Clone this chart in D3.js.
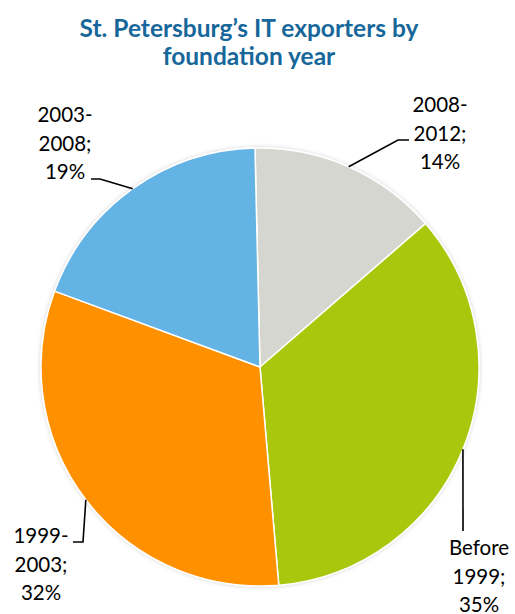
<!DOCTYPE html>
<html>
<head>
<meta charset="utf-8">
<script src="https://cdn.jsdelivr.net/npm/d3@7"></script>
<style>
  html, body { margin: 0; padding: 0; background: #fff; }
  svg { display: block; }
</style>
</head>
<body>
<svg id="chart" width="515" height="614"></svg>
<script>
// Share of St. Petersburg IT exporters by year of foundation (clockwise from top)
const categories = ["2008-2012", "Before 1999", "1999-2003", "2003-2008"];
const shares = [14, 35, 32, 19];
const labelLines = [
  ["2008-", "2012;", "14%"],
  ["Before", "1999;", "35%"],
  ["1999-", "2003;", "32%"],
  ["2003-", "2008;", "19%"]
];
const titleLines = ["St. Petersburg\u2019s IT exporters by", "foundation year"];

const colors = ["#D6D6D0", "#A9C809", "#FF9000", "#63B3E4"];

const svg = d3.select("#chart");
const cx = 260, cy = 367, r = 219;
const startAngle = -0.023;

// Title
svg.append("g")
  .selectAll("text")
  .data(titleLines)
  .join("text")
  .attr("x", 249)
  .attr("y", (d, i) => 37 + i * 28)
  .attr("text-anchor", "middle")
  .attr("font-family", "Lato, 'Open Sans', sans-serif")
  .attr("font-weight", "bold")
  .attr("font-size", 24.5)
  .attr("fill", "#17679A")
  .text(d => d);

// Soft shadow under the pie
const defs = svg.append("defs");
const f = defs.append("filter").attr("id", "shadow")
  .attr("x", "-10%").attr("y", "-10%").attr("width", "120%").attr("height", "120%");
f.append("feDropShadow").attr("dx", 0).attr("dy", 0).attr("stdDeviation", 2)
  .attr("flood-color", "#000").attr("flood-opacity", 0.18);

const pie = d3.pie().sort(null).value(d => d)
  .startAngle(startAngle).endAngle(startAngle + 2 * Math.PI);
const arcs = pie(shares);
const arc = d3.arc().innerRadius(0).outerRadius(r);

const g = svg.append("g").attr("transform", `translate(${cx},${cy})`);
g.append("g").attr("filter", "url(#shadow)")
  .selectAll("path")
  .data(arcs)
  .join("path")
  .attr("d", arc)
  .attr("fill", (d, i) => colors[i])
  .attr("stroke", "#fff")
  .attr("stroke-width", 1.5)
  .attr("stroke-linejoin", "round");

// Leader lines: from the slice's outer edge midpoint to the label
const leaders = [
  { bend: [398, 140], end: [409, 140] },
  { bend: null, end: [463, 531] },
  { bend: [83, 542], end: [73, 542] },
  { bend: [100, 179], end: [91, 179] }
];
const edgePoint = a => {
  const m = (a.startAngle + a.endAngle) / 2;
  return [cx + r * Math.sin(m), cy - r * Math.cos(m)];
};
svg.append("g")
  .selectAll("path")
  .data(arcs)
  .join("path")
  .attr("d", (d, i) => {
    const pts = [edgePoint(d)];
    if (leaders[i].bend) pts.push(leaders[i].bend);
    pts.push(leaders[i].end);
    return d3.line()(pts);
  })
  .attr("fill", "none")
  .attr("stroke", "#000")
  .attr("stroke-width", 1.6);

// Data labels
const labelPos = [[440, 112], [479, 555], [41, 543], [65, 122]];
const lg = svg.append("g")
  .attr("font-family", "Lato, 'Open Sans', sans-serif")
  .attr("font-size", 20.5)
  .attr("fill", "#000")
  .attr("text-anchor", "middle");
labelLines.forEach((lines, i) => {
  lg.append("text")
    .selectAll("tspan")
    .data(lines)
    .join("tspan")
    .attr("x", labelPos[i][0])
    .attr("y", (d, j) => labelPos[i][1] + j * 28.5)
    .text(d => d);
});
</script>
</body>
</html>
